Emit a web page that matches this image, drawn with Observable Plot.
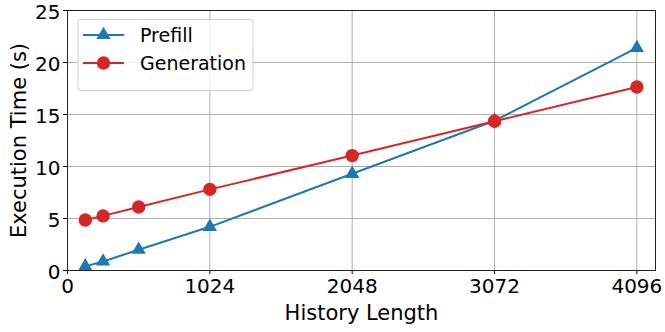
<!DOCTYPE html>
<html>
<head>
<meta charset="utf-8">
<script src="https://cdn.jsdelivr.net/npm/d3@7"></script>
<script src="https://cdn.jsdelivr.net/npm/@observablehq/plot@0.6"></script>
<style>
  html, body { margin: 0; padding: 0; background: #fff; }
  #chart svg { display: block; overflow: visible; }
</style>
</head>
<body>
<div id="chart"></div>
<script>
const historyLength = [128, 256, 512, 1024, 2048, 3072, 4096];
const prefill = [0.4, 0.87, 2.0, 4.2, 9.3, 14.4, 21.4];
const generation = [4.85, 5.25, 6.1, 7.8, 11.05, 14.35, 17.65];
const xTicks = [0, 1024, 2048, 3072, 4096];
const yTicks = [0, 5, 10, 15, 20, 25];
const seriesNames = ["Prefill", "Generation"];
const colors = ["#1f77b4", "#d62728"];

const rows = [];
historyLength.forEach((h, i) => {
  rows.push({x: h, y: prefill[i], s: seriesNames[0]});
  rows.push({x: h, y: generation[i], s: seriesNames[1]});
});
const pre = rows.filter(d => d.s === seriesNames[0]);
const gen = rows.filter(d => d.s === seriesNames[1]);

const plot = Plot.plot({
  width: 665,
  height: 332,
  marginLeft: 67,
  marginRight: 10,
  marginTop: 10,
  marginBottom: 62,
  style: {fontFamily: "DejaVu Sans", fontSize: "20px", background: "#fff", color: "#000", overflow: "visible"},
  x: {domain: [0, 4230], ticks: xTicks, tickFormat: d3.format("d")},
  y: {domain: [0, 25], ticks: yTicks, tickFormat: d3.format("d")},
  marks: [
    Plot.gridX(xTicks, {stroke: "#b0b0b0", strokeOpacity: 1, strokeWidth: 1}),
    Plot.gridY(yTicks, {stroke: "#b0b0b0", strokeOpacity: 1, strokeWidth: 1}),
    Plot.axisX(xTicks, {tickSize: 4, tickPadding: 4, fontSize: 20, tickFormat: d3.format("d"), label: null}),
    Plot.axisY(yTicks, {tickSize: 4, tickFormat: () => "", label: null}),
    Plot.axisY(yTicks, {tickSize: 0, tickPadding: 7, dy: 2, fontSize: 20, tickFormat: d3.format("d"), label: null}),
    Plot.axisX({label: "History Length", labelAnchor: "center", labelArrow: "none", labelOffset: 49, fontSize: 21, ticks: [], tickSize: 0}),
    Plot.axisY({label: "Execution Time (s)", labelAnchor: "center", labelArrow: "none", labelOffset: 56, fontSize: 21, ticks: [], tickSize: 0}),
    Plot.line(pre, {x: "x", y: "y", stroke: colors[0], strokeWidth: 2}),
    Plot.line(gen, {x: "x", y: "y", stroke: colors[1], strokeWidth: 2}),
    Plot.dot(pre, {x: "x", y: "y", symbol: "triangle", r: 5.3, fill: colors[0], stroke: "none"}),
    Plot.dot(gen, {x: "x", y: "y", symbol: "circle", r: 6.7, fill: colors[1], stroke: "none"}),
    Plot.frame({stroke: "#222", strokeWidth: 1})
  ]
});
document.getElementById("chart").appendChild(plot);

// Legend inside plot area
const svg = d3.select(plot);
const lg = svg.append("g").attr("font-family", "DejaVu Sans").attr("font-size", 19).attr("text-anchor", "start");
lg.append("rect").attr("x", 78).attr("y", 19.5).attr("width", 175).attr("height", 71).attr("rx", 3)
  .attr("fill", "#fff").attr("fill-opacity", 0.8).attr("stroke", "#d0d0d0");
const ys = [35, 63];
seriesNames.forEach((name, i) => {
  const g = lg.append("g");
  g.append("line").attr("x1", 83).attr("x2", 124).attr("y1", ys[i]).attr("y2", ys[i])
    .attr("stroke", colors[i]).attr("stroke-width", 2);
  const sym = i === 0 ? d3.symbolTriangle : d3.symbolCircle;
  const size = i === 0 ? Math.PI * 5.3 * 5.3 : Math.PI * 6.7 * 6.7;
  g.append("path").attr("d", d3.symbol(sym, size)()).attr("transform", `translate(103.5,${ys[i]})`)
    .attr("fill", colors[i]);
  g.append("text").attr("x", 140).attr("y", ys[i]).attr("dy", "0.35em").attr("fill", "#000")
    .attr("text-anchor", "start").text(name);
});
</script>
</body>
</html>
